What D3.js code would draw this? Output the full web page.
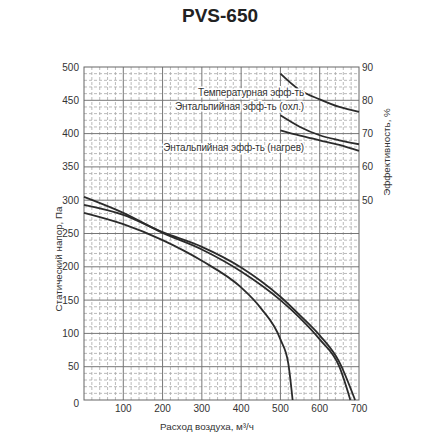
<!DOCTYPE html>
<html>
<head>
<meta charset="utf-8">
<script src="https://cdn.jsdelivr.net/npm/d3@7"></script>
<style>
  body { margin: 0; background: #fff; }
  svg text { font-family: "Liberation Sans", Arial, sans-serif; fill: #333; }
</style>
</head>
<body>
<div id="pvsChart"></div>
<script>
// Dados do gráfico //
const flowTicks = [100, 200, 300, 400, 500, 600, 700]
const pressureTicks = [0, 50, 100, 150, 200, 250, 300, 350, 400, 450, 500]
const effTicks = [50, 60, 70, 80, 90]

// Curvas de pressão (vazão m3/h x pressão Pa)
const flowA = [0, 100, 200, 300, 400, 500, 550, 600, 650, 678]
const pressureA = [305, 281, 251, 226, 193, 150, 123, 91, 50, 0]
const flowB = [0, 100, 200, 300, 400, 500, 550, 600, 650, 690]
const pressureB = [293, 278, 252, 230, 199, 155, 127, 97, 57, 0]
const flowC = [0, 100, 200, 300, 400, 450, 500, 520, 531]
const pressureC = [281, 264, 240, 209, 169, 138, 91, 55, 0]

// Curvas de eficiência (%)
const effFlow = [500, 550, 600, 650, 700]
const effTemp = [88, 83, 80.3, 78, 76.5]
const effCool = [75.5, 72, 69.5, 68, 66.8]
const effHeat = [71, 69.4, 68, 66.6, 64.8]

const effNames = ["Температурная эфф-ть", "Энтальпийная эфф-ть (охл.)", "Энтальпийная эфф-ть (нагрев)"]

var pvsChart = {
  // Renderiza o gráfico //
  render: function(node){
    const width = 440, height = 440

    const svg = d3.select(node).append("svg")
      .attr("width", width)
      .attr("height", height)

    const x = d3.scaleLinear().domain([0, 700]).range([84, 359])
    const y = d3.scaleLinear().domain([0, 500]).range([400, 67])
    const yR = d3.scaleLinear().domain([-10, 90]).range([400, 67])

    // Título
    svg.append("text")
      .attr("x", 220).attr("y", 22)
      .attr("text-anchor", "middle")
      .style("font-size", "19px").style("font-weight", "bold")
      .style("fill", "#222")
      .text("PVS-650")

    // Grade secundária (tracejada)
    const grid = svg.append("g")
    grid.selectAll("line.vminor")
      .data(d3.range(0, 701, 20).filter(v => v % 100 !== 0))
      .enter().append("line")
      .attr("x1", d => x(d)).attr("x2", d => x(d))
      .attr("y1", y(0)).attr("y2", y(500))
      .attr("stroke", "#aaa").attr("stroke-width", 0.8)
      .attr("stroke-dasharray", "3,2")
    grid.selectAll("line.hminor")
      .data(d3.range(0, 501, 10).filter(v => v % 50 !== 0))
      .enter().append("line")
      .attr("x1", x(0)).attr("x2", x(700))
      .attr("y1", d => y(d)).attr("y2", d => y(d))
      .attr("stroke", "#aaa").attr("stroke-width", 0.8)
      .attr("stroke-dasharray", "3,2")

    // Grade principal
    grid.selectAll("line.vmajor")
      .data(d3.range(100, 700, 100))
      .enter().append("line")
      .attr("x1", d => x(d)).attr("x2", d => x(d))
      .attr("y1", y(0)).attr("y2", y(500))
      .attr("stroke", "#777").attr("stroke-width", 1)
    grid.selectAll("line.hmajor")
      .data(pressureTicks.slice(1, -1))
      .enter().append("line")
      .attr("x1", x(0)).attr("x2", x(700))
      .attr("y1", d => y(d)).attr("y2", d => y(d))
      .attr("stroke", "#777").attr("stroke-width", 1)

    svg.append("rect")
      .attr("x", x(0)).attr("y", y(500))
      .attr("width", x(700) - x(0)).attr("height", y(0) - y(500))
      .attr("fill", "none").attr("stroke", "#666").attr("stroke-width", 1)

    // Eixos
    svg.append("g").selectAll("text")
      .data(pressureTicks).enter().append("text")
      .attr("x", 79).attr("y", d => y(d)).attr("dy", d => d === 0 ? "0.7em" : "0.35em")
      .attr("text-anchor", "end")
      .style("font-size", "10px")
      .text(d => d)

    svg.append("g").selectAll("text")
      .data(flowTicks).enter().append("text")
      .attr("x", d => x(d)).attr("y", 412)
      .attr("text-anchor", "middle")
      .style("font-size", "10px")
      .text(d => d)

    svg.append("g").selectAll("text")
      .data(effTicks).enter().append("text")
      .attr("x", 362).attr("y", d => yR(d)).attr("dy", "0.35em")
      .style("font-size", "10px")
      .text(d => d)

    svg.append("text")
      .attr("x", 207).attr("y", 430)
      .attr("text-anchor", "middle")
      .style("font-size", "9.8px")
      .text("Расход воздуха, м³/ч")

    svg.append("text")
      .attr("transform", "translate(62,259) rotate(-90)")
      .attr("text-anchor", "middle")
      .style("font-size", "9.8px")
      .text("Статический напор, Па")

    svg.append("text")
      .attr("transform", "translate(390,152) rotate(-90)")
      .attr("text-anchor", "middle")
      .style("font-size", "9.8px")
      .text("Эффективность, %")

    // Curvas
    const line = d3.line().curve(d3.curveMonotoneX)
    const pressureSeries = [[flowA, pressureA], [flowB, pressureB], [flowC, pressureC]]
    svg.append("g").selectAll("path")
      .data(pressureSeries).enter().append("path")
      .attr("d", d => line(d[0].map((f, i) => [x(f), y(d[1][i])])))
      .attr("fill", "none").attr("stroke", "#2b2b2b").attr("stroke-width", 1.8)

    const effSeries = [effTemp, effCool, effHeat]
    svg.append("g").selectAll("path")
      .data(effSeries).enter().append("path")
      .attr("d", d => line(effFlow.map((f, i) => [x(f), yR(d[i])])))
      .attr("fill", "none").attr("stroke", "#2b2b2b").attr("stroke-width", 1.8)

    // Rótulos das curvas de eficiência
    const labelY = [96, 110, 151]
    svg.append("g").selectAll("text")
      .data(effNames).enter().append("text")
      .attr("x", 304).attr("y", (d, i) => labelY[i])
      .attr("text-anchor", "end")
      .style("font-size", "10px")
      .style("letter-spacing", "-0.15px")
      .style("paint-order", "stroke")
      .style("stroke", "#fff").style("stroke-width", "3px")
      .text(d => d)
  }
}

// Chama o Gráfico //
pvsChart.render("#pvsChart")
</script>
</body>
</html>
